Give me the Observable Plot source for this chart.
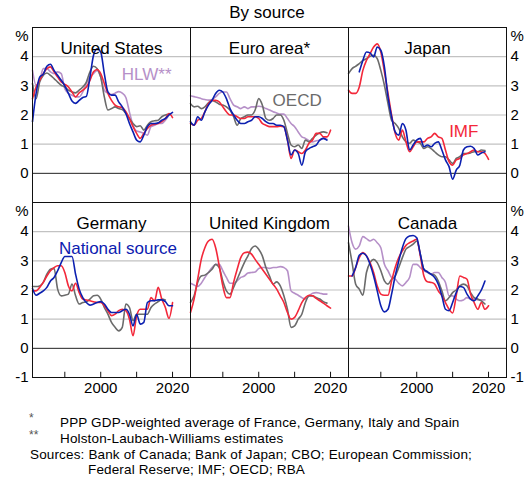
<!DOCTYPE html>
<html><head><meta charset="utf-8">
<script src="https://cdn.jsdelivr.net/npm/d3@7"></script>
<script src="https://cdn.jsdelivr.net/npm/@observablehq/plot@0.6"></script>
<style>
body{margin:0;background:#fff;font-family:"Liberation Sans",Arial,sans-serif;color:#000;}
#wrap{position:relative;width:531px;height:490px;overflow:hidden;}
#chart{position:absolute;left:0;top:0;}
.t{position:absolute;white-space:nowrap;}
#title{left:0;width:534px;top:3px;text-align:center;font-size:17px;line-height:20px;}
.fn{font-size:13.5px;line-height:15px;letter-spacing:0.15px;}
.ast{font-size:12px;line-height:12px;color:#555;}
</style></head><body>
<div id="wrap">
<div id="chart"></div>
<div id="title" class="t">By source</div>
<div class="t ast" style="left:29px;top:412px;">*</div>
<div class="t fn" style="left:60px;top:415px;">PPP GDP-weighted average of France, Germany, Italy and Spain</div>
<div class="t ast" style="left:29px;top:429px;">**</div>
<div class="t fn" style="left:60px;top:430.5px;">Holston-Laubach-Williams estimates</div>
<div class="t fn" style="left:30px;top:446.5px;">Sources: Bank of Canada; Bank of Japan; CBO; European Commission;</div>
<div class="t fn" style="left:88px;top:462px;">Federal Reserve; IMF; OECD; RBA</div>
</div>
<script>
const years = [1981,1982,1983,1984,1985,1986,1987,1988,1989,1990,1991,1992,1993,1994,1995,1996,1997,1998,1999,2000,2001,2002,2003,2004,2005,2006,2007,2008,2009,2010,2011,2012,2013,2014,2015,2016,2017,2018,2019,2020];
const countries = ["United States","Euro area*","Japan","Germany","United Kingdom","Canada"];
const seriesNames = ["HLW**","OECD","IMF","National source"];
const colors = ["#b690c8","#6b6b6b","#f3283a","#0c20b0"];

// United States
const usHLW  = [3.53,3.02,3.19,3.59,3.59,3.48,3.42,3.48,3.42,2.9, 2.74,2.68,2.62,2.62,2.79,3.08,3.3,3.42,3.53,3.3, 2.85,2.75,2.7,2.75,2.8,2.75,2.6,2.1,1.65,1.45, 1.42,1.37,1.31,1.6,1.65,1.71,1.71,1.82,2.0,null];
const usOECD = [3.08,2.56,3.13,3.36,3.44,3.36,3.25,3.13,3.02,2.96, 2.85,2.79,2.76,2.85,2.96,3.13,3.48,3.67,3.59,3.3, 2.62,2.17,2.22,2.28,2.22,2.19,2.05,1.88,1.71,1.6, 1.63,1.48,1.65,1.77,1.8,1.82,1.94,2.0,2.02,null];
const usIMF  = [2.56,2.96,3.19,3.42,3.59,3.65,3.48,3.3,3.13,3.05, 2.96,2.79,2.62,2.76,2.85,2.96,3.19,3.48,3.56,3.42, 3.08,2.74,2.5,2.34,2.28,2.26,2.11,1.88,1.6,1.37, 1.2,1.37,1.54,1.65,1.68,1.71,1.77,1.88,2.05,1.91];
const usNat  = [1.77,2.74,3.3,3.4,3.67,3.74,3.53,3.36,3.19,3.0, 2.74,2.48,2.4,2.5,2.6,2.64,3.3,4.05,4.27,4.16, 3.42,2.79,2.68,2.68,2.45,2.28,2.05,1.71,1.42,1.14, 1.08,1.31,1.6,1.71,1.71,1.73,1.82,1.88,2.0,2.09];
// Euro area
const euHLW  = [2.66,2.63,2.6,2.56,2.53,2.51,2.53,2.62,2.74,2.79, 2.79,2.56,2.34,2.28,2.22,2.28,2.22,2.28,2.28,2.3, 2.28,2.22,2.17,2.11,2.07,2.03,2.03,1.88,1.71,1.6, 1.42,1.25,1.2,1.12,1.08,1.12,1.14,1.2,1.17,null];
const euOECD = [2.39,2.28,2.3,2.22,2.28,2.42,2.5,2.45,2.37,2.34, 2.28,2.17,1.94,1.65,1.88,1.94,2.0,2.0,2.17,2.56, 2.34,1.88,1.82,1.88,2.0,2.0,1.82,1.37,0.97,0.91, 0.97,0.85,1.14,1.08,1.2,1.31,1.39,1.42,1.39,null];
const euIMF  = [1.71,1.65,1.82,1.88,2.11,2.39,2.5,2.5,2.45,2.28, 2.11,2.0,2.0,1.94,1.88,1.88,1.94,1.94,1.94,1.88, 1.71,1.65,1.6,1.6,1.6,1.62,1.6,1.14,0.51,0.8, 0.74,0.68,0.8,1.03,1.14,1.37,1.37,1.25,1.25,1.48];
const euNat  = [1.77,1.65,1.94,1.82,2.11,2.34,2.5,2.74,2.85,2.79, 2.56,2.22,2.0,1.82,1.71,1.71,1.77,1.82,1.94,1.94, 1.88,1.77,1.71,1.71,1.65,1.65,1.6,1.14,0.63,0.8, 0.68,0.28,0.74,0.85,0.91,0.97,1.14,1.2,1.14,null];
// Japan
const jpOECD = [3.42,3.59,3.67,3.76,3.87,3.93,4.01,4.05,3.93,3.53, 3.02,2.39,1.82,1.71,1.54,1.25,1.08,1.03,1.14,1.08, 1.03,0.85,0.91,0.85,0.74,0.63,0.57,0.57,0.46,0.34, 0.51,0.57,0.68,0.68,0.7,0.74,0.74,0.8,0.78,null];
const jpIMF  = [2.85,2.74,2.74,2.96,3.53,3.87,4.1,4.33,4.44,4.16, 3.48,2.74,2.0,1.37,1.14,1.48,1.08,0.74,0.91,1.08, 1.08,1.08,1.2,1.25,1.37,1.25,1.2,0.8,0.4,0.28, 0.46,0.51,0.63,0.68,0.74,0.8,0.74,0.74,0.68,0.48];
const jpNat  = [null,null,null,3.48,3.87,4.16,4.13,3.99,4.33,4.22, 3.65,2.62,1.94,1.42,1.31,1.71,1.48,0.8,0.97,1.14, 1.2,0.91,0.97,0.91,1.03,1.08,0.8,0.46,0.23,-0.2, 0.11,0.28,0.8,0.91,0.93,0.85,0.63,0.7,0.74,null];
// Germany
const deOECD = [2.12,2.12,2.14,2.26,2.54,2.71,2.74,2.03,1.8,1.82, 1.86,2.2,1.8,1.52,1.57,1.6,1.69,1.8,1.82,1.69, 1.4,1.17,0.89,0.72,0.6,0.72,1.52,1.4,0.95,1.17, 1.17,1.17,1.17,1.4,1.52,1.6,1.69,1.66,null,null];
const deIMF  = [1.97,1.97,2.09,2.26,2.48,2.66,2.77,2.83,2.83,2.6, 2.14,1.97,2.23,1.91,1.69,1.66,1.63,1.6,1.57,1.57, 1.46,1.29,1.12,1.17,1.29,1.34,1.29,1.0,0.43,1.12, 1.34,1.34,1.34,1.74,1.63,2.09,1.69,1.4,1.03,1.57];
const deNat  = [2.05,1.82,1.89,1.97,2.09,2.31,2.43,2.66,2.94,3.15, 3.15,3.15,2.54,2.03,1.74,1.57,1.48,1.52,1.57,1.6, 1.52,1.34,1.23,1.23,1.23,1.29,1.34,1.17,0.77,1.17, 0.83,0.89,1.57,1.63,1.63,1.66,1.66,1.6,1.46,1.46];
// United Kingdom
const ukHLW  = [2.23,2.17,2.12,2.23,2.43,2.6,2.77,2.88,2.88,2.66, 2.43,2.23,2.23,2.31,2.43,2.48,2.58,2.6,2.62,2.74, 2.77,2.77,2.74,2.77,2.77,2.8,2.77,2.66,1.97,1.89, 1.82,1.74,1.69,1.8,1.89,1.91,1.89,1.86,1.86,null];
const ukOECD = [1.57,1.8,2.26,2.48,2.51,2.6,2.71,2.88,2.77,2.31, 1.97,1.86,2.09,2.37,2.66,2.94,3.17,3.42,3.51,3.4, 3.17,2.77,2.48,2.2,2.28,2.14,1.8,1.34,0.72,0.77, 1.0,1.17,1.57,1.8,1.8,1.74,1.69,1.6,1.55,null];
const ukIMF  = [1.23,1.69,2.37,3.05,3.45,3.68,3.74,3.45,2.83,2.14, 1.74,1.74,2.26,2.71,3.11,3.28,3.3,3.23,3.05,2.88, 2.71,2.54,2.37,2.2,2.03,1.8,1.57,1.23,1.0,1.06, 1.29,1.57,1.74,1.82,1.8,1.71,1.63,1.55,1.46,1.38];
// Canada
const caHLW  = [4.19,3.62,3.4,3.51,3.83,3.76,3.68,3.74,3.62,3.45, 2.88,2.66,2.43,2.37,2.23,2.14,2.26,2.43,2.88,2.88, 2.77,2.66,2.6,2.54,2.6,2.6,2.43,2.26,1.8,1.8, 1.69,1.63,1.66,1.74,1.69,1.69,1.66,1.66,1.66,null];
const caOECD = [3.62,2.94,2.2,2.03,1.82,2.6,2.94,3.05,2.94,2.66, 2.31,2.2,2.37,2.48,2.77,3.11,3.4,3.49,3.57,3.68, 3.23,2.71,2.62,2.54,2.51,2.31,1.97,1.63,1.74,1.91, 2.0,2.14,2.2,2.14,1.91,1.74,1.69,1.63,1.52,null];
const caIMF  = [2.48,2.48,2.77,3.11,3.28,3.17,2.94,2.6,2.14,1.86, 1.82,1.82,2.31,2.77,3.11,3.34,3.53,3.62,3.68,3.74, 3.17,2.48,2.28,2.26,2.2,1.97,1.8,1.57,1.34,1.21, 1.8,2.48,2.43,2.37,1.86,1.57,1.34,1.57,1.34,1.46];
const caNat  = [null,2.48,2.77,3.19,3.26,3.17,2.88,2.48,1.97,1.46, 1.25,1.34,1.86,2.48,3.0,3.45,3.76,3.85,3.87,3.79, 3.23,2.71,2.62,2.54,2.43,2.2,1.8,1.34,1.29,1.57, 1.91,2.12,2.09,1.86,1.69,1.63,1.8,2.0,2.31,null];

const panelSeries = [
  [usHLW, usOECD, usIMF, usNat],
  [euHLW, euOECD, euIMF, euNat],
  [null,  jpOECD, jpIMF, jpNat],
  [null,  deOECD, deIMF, deNat],
  [ukHLW, ukOECD, ukIMF, null],
  [caHLW, caOECD, caIMF, caNat]
];

const yTicksTop = [0,1,2,3,4];
const yTicksBottom = [-1,0,1,2,3,4];
const xTickYears = [1990,2000,2010,2020];
const xLabelYears = [2000,2020];

// series label positions (year, value)
const labelPanels = [0,1,2,3];
const labelYears = [2012.8, 2010.7, 2013.1, 2004.8];
const labelValues = [3.4, 2.51, 1.43, 3.43];

const rows = [];
panelSeries.forEach((ser, i) => {
  ser.forEach((vals, s) => {
    if (!vals) return;
    vals.forEach((v, j) => rows.push({fx: i % 3, fy: Math.floor(i / 3), s, year: years[j], value: v}));
  });
});

const facetOf = i => ({fx: i % 3, fy: Math.floor(i / 3)});
const titles = countries.map((c, i) => ({...facetOf(i), text: c}));

const leftLabels = [], rightLabels = [], pctLeft = [], pctRight = [];
[yTicksTop, yTicksBottom].forEach((ticks, r) => {
  ticks.forEach(v => {
    leftLabels.push({fx: 0, fy: r, v, text: String(v)});
    rightLabels.push({fx: 2, fy: r, v, text: String(v)});
  });
  pctLeft.push({fx: 0, fy: r, v: 5, text: "%"});
  pctRight.push({fx: 2, fy: r, v: 5, text: "%"});
});

const xTicks = [], xLabels = [];
[0,1,2].forEach(c => {
  xTickYears.forEach(y => xTicks.push({fx: c, fy: 1, year: y}));
  xLabelYears.forEach(y => xLabels.push({fx: c, fy: 1, year: y, text: String(y)}));
});

const font = "'Liberation Sans', Arial, sans-serif";
const marks = [
  Plot.ruleY([1,2,3,4], {stroke: "#c2c2c2", strokeWidth: 1.2}),
  Plot.ruleY([0], {stroke: "#222", strokeWidth: 1}),
];
[0,1,2,3].forEach(s => {
  marks.push(Plot.line(rows.filter(d => d.s === s), {
    x: "year", y: "value", fx: "fx", fy: "fy",
    stroke: colors[s], strokeWidth: 1.6, curve: "monotone-x"
  }));
});
labelPanels.forEach((p, k) => {
  marks.push(Plot.text([{...facetOf(p), year: labelYears[k], value: labelValues[k], text: seriesNames[k]}], {
    x: "year", y: "value", fx: "fx", fy: "fy", text: "text",
    fill: colors[k], fontSize: 17
  }));
});
marks.push(
  Plot.frame({stroke: "#111", strokeWidth: 1}),
  Plot.text(titles, {fx: "fx", fy: "fy", text: "text", frameAnchor: "top", dy: 14.5, fontSize: 17, fill: "#000"}),
  Plot.text(leftLabels, {fx: "fx", fy: "fy", y: "v", text: "text", frameAnchor: "left", textAnchor: "end", dx: -4, fontSize: 15, fill: "#000"}),
  Plot.text(rightLabels, {fx: "fx", fy: "fy", y: "v", text: "text", frameAnchor: "right", textAnchor: "start", dx: 4, fontSize: 15, fill: "#000"}),
  Plot.text(pctLeft, {fx: "fx", fy: "fy", y: "v", text: "text", frameAnchor: "left", textAnchor: "end", dx: -4, dy: 9, fontSize: 15, fill: "#000"}),
  Plot.text(pctRight, {fx: "fx", fy: "fy", y: "v", text: "text", frameAnchor: "right", textAnchor: "start", dx: 4, dy: 9, fontSize: 15, fill: "#000"}),
  Plot.ruleX(xTicks, {fx: "fx", fy: "fy", x: "year", y1: -1, y2: -0.82, stroke: "#111"}),
  Plot.text(xLabels, {fx: "fx", fy: "fy", x: "year", text: "text", frameAnchor: "bottom", dy: 15, fontSize: 15, fill: "#000"})
);

const chart = Plot.plot({
  width: 531, height: 400,
  marginTop: 26, marginLeft: 31, marginRight: 24, marginBottom: 23,
  style: {fontFamily: font, background: "white", overflow: "visible"},
  x: {domain: [1981, 2025], axis: null},
  y: {domain: [-1, 5], axis: null},
  fx: {domain: [0,1,2], padding: 0, axis: null},
  fy: {domain: [0,1], padding: 0, axis: null},
  marks
});
document.getElementById("chart").appendChild(chart);
</script>
</body></html>
